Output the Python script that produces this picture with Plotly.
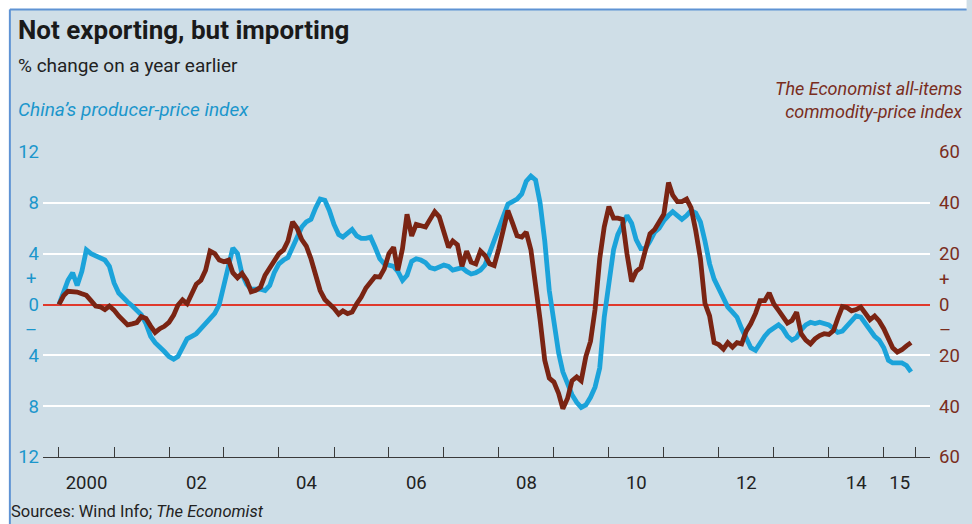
import pandas as pd
import plotly.graph_objects as go

# ---------------- data (monthly, Jan 2000 - Jul 2015) ----------------
months = pd.date_range("2000-01-01", periods=187, freq="MS")

# China's producer-price index, % change on a year earlier (left axis)
ppi = [
    0.0, 1.1, 1.9, 2.5, 1.5, 2.6, 4.3, 4.0, 3.8, 3.7, 3.5, 3.0,      # 2000
    1.7, 0.9, 0.5, 0.2, -0.1, -0.4, -0.8, -1.5, -2.5, -3.0, -3.3, -3.7,  # 2001
    -4.1, -4.3, -4.1, -3.3, -2.7, -2.5, -2.3, -1.9, -1.5, -1.2, -0.7, 0.0,  # 2002
    1.6, 3.3, 4.45, 4.0, 2.4, 1.6, 1.2, 1.2, 1.2, 1.1, 1.5, 2.5,      # 2003
    3.2, 3.5, 3.7, 4.5, 5.3, 6.1, 6.5, 6.7, 7.6, 8.3, 8.2, 7.4,      # 2004
    6.3, 5.5, 5.3, 5.6, 5.9, 5.4, 5.2, 5.2, 5.3, 4.5, 3.6, 3.2,      # 2005
    3.1, 3.0, 2.6, 1.9, 2.3, 3.4, 3.6, 3.5, 3.3, 2.9, 2.8, 2.9,      # 2006
    3.1, 3.0, 2.7, 2.8, 2.9, 2.6, 2.4, 2.5, 2.7, 3.1, 4.1, 5.1,      # 2007
    6.1, 7.0, 7.9, 8.1, 8.3, 8.7, 9.7, 10.1, 9.8, 8.0, 5.0, 1.1,     # 2008
    -1.6, -3.8, -5.3, -6.3, -7.1, -7.7, -8.1, -7.9, -7.3, -6.5, -5.0, -1.0,  # 2009
    2.0, 4.3, 5.5, 6.3, 7.0, 6.4, 5.1, 4.4, 4.4, 5.0, 5.7, 6.0,      # 2010
    6.6, 7.0, 7.3, 7.0, 6.7, 7.0, 7.4, 7.2, 6.5, 5.0, 3.2, 2.0,      # 2011
    1.2, 0.5, -0.2, -0.6, -1.0, -1.9, -2.7, -3.4, -3.6, -3.0, -2.5, -2.1,  # 2012
    -1.8, -1.6, -1.9, -2.5, -2.8, -2.6, -2.0, -1.6, -1.4, -1.5, -1.4, -1.5,  # 2013
    -1.6, -1.9, -2.2, -2.1, -1.7, -1.3, -0.9, -1.0, -1.5, -2.0, -2.5, -2.8,  # 2014
    -3.4, -4.4, -4.6, -4.6, -4.6, -4.8, -5.3,                          # 2015
]

# The Economist all-items commodity-price index, % change on a year earlier (right axis)
commodity = [
    0.0, 3.5, 5.2, 5.2, 4.9, 4.2, 3.6, 1.5, -0.6, -0.9, -2.0, -0.6,   # 2000
    -2.2, -4.5, -6.5, -8.0, -7.6, -7.1, -4.8, -5.5, -8.5, -11.0, -9.5, -8.6,  # 2001
    -7.0, -4.2, -0.3, 1.8, 0.3, 4.3, 8.0, 9.5, 13.5, 21.0, 20.0, 17.5,  # 2002
    16.8, 17.5, 12.5, 10.5, 12.2, 9.5, 5.0, 5.6, 6.8, 11.5, 14.5, 17.0,  # 2003
    20.0, 21.5, 25.0, 32.5, 30.0, 25.5, 23.0, 18.0, 11.0, 5.5, 2.0, 0.5,  # 2004
    -1.5, -3.8, -2.5, -3.6, -3.0, 0.3, 2.9, 6.5, 8.8, 11.0, 10.8, 14.0,  # 2005
    20.0, 22.5, 13.5, 22.0, 35.5, 27.0, 31.5, 31.0, 30.5, 33.5, 36.5, 34.5,  # 2006
    28.5, 22.5, 25.0, 23.5, 15.0, 21.0, 16.7, 16.0, 21.0, 19.3, 16.0, 15.3,  # 2007
    22.0, 30.5, 37.0, 32.0, 27.0, 26.5, 28.5, 21.5, 8.5, -6.0, -22.0, -29.0,  # 2008
    -30.5, -35.0, -41.0, -37.0, -30.0, -28.5, -30.0, -20.5, -14.5, -2.0, 18.0, 30.5,  # 2009
    38.5, 34.0, 34.0, 33.5, 20.0, 9.0, 13.0, 14.5, 21.5, 27.8, 29.5, 32.5,  # 2010
    35.5, 48.0, 43.0, 40.5, 40.5, 41.5, 38.0, 29.0, 18.0, 0.5, -4.5, -15.0,  # 2011
    -15.8, -17.5, -15.0, -16.8, -15.0, -15.5, -10.5, -7.5, -3.5, 1.5, 1.5, 4.5,  # 2012
    0.2, -2.3, -5.0, -7.3, -6.3, -3.0, -11.5, -14.0, -15.5, -13.5, -12.2, -11.5,  # 2013
    -11.8, -10.3, -5.5, -0.8, -1.2, -2.5, -2.0, -1.0, -3.5, -6.0, -4.5, -6.5,  # 2014
    -9.5, -13.0, -17.0, -18.7, -17.8, -16.3, -15.0,                    # 2015
]

left_tickvals = [-12, -8, -4, 0, 4, 8, 12]
left_ticktext = ["12", "8", "4", "0", "4", "8", "12"]
left_sign_vals = [2, -2]
left_sign_text = ["+", "\u2013"]
right_tickvals = [-60, -40, -20, -10, 0, 10, 20, 40, 60]
right_ticktext = ["60", "40", "20", "\u2013", "0", "+", "20", "40", "60"]

year_ticks = [f"{y}-01-01" for y in range(2000, 2016)] + ["2015-08-01"]
year_label_pos = ["2000-07-02", "2002-07-02", "2004-07-02", "2006-07-02", "2008-07-02",
                  "2010-07-02", "2012-07-02", "2014-07-02", "2015-04-17"]
year_label_text = ["2000", "02", "04", "06", "08", "10", "12", "14", "15"]

# ---------------- styling ----------------
BG = "#cfdee7"
BLUE = "#1ba3da"
BLUE_TXT = "#1b96cc"
BROWN = "#7a2413"
BROWN_TXT = "#7a2d1d"
AXIS = "#3a3a3a"
FONT = "Roboto"

W, H = 972, 524
L, R, T, B = 43, 940, 152, 457


def px(xp):
    return (xp - L) / (R - L)


def py(yp):
    return (B - yp) / (B - T)


x_range = ["1999-09-17", "2015-11-04"]

fig = go.Figure()
fig.add_trace(go.Scatter(x=months, y=ppi, mode="lines", yaxis="y",
                         line=dict(color=BLUE, width=4.8), hoverinfo="skip",
                         name="China's producer-price index"))
fig.add_trace(go.Scatter(x=months, y=commodity, mode="lines", yaxis="y2",
                         line=dict(color=BROWN, width=4.8), hoverinfo="skip",
                         name="The Economist all-items commodity-price index"))

fig.update_layout(
    width=W, height=H,
    margin=dict(l=L, r=W - R, t=T, b=H - B, pad=0),
    paper_bgcolor=BG, plot_bgcolor=BG,
    showlegend=False,
    font=dict(family=FONT, color="#222"),
    xaxis=dict(
        type="date", range=x_range, tickmode="array", tickvals=year_label_pos,
        ticktext=year_label_text, ticks="", ticklabelstandoff=9,
        tickfont=dict(family=FONT, size=18.5, color="#222"),
        minor=dict(tickmode="array", tickvals=year_ticks, ticks="inside", ticklen=10,
                   tickwidth=1.2, tickcolor=AXIS, showgrid=False),
        showline=True, linecolor=AXIS, linewidth=1.4,
        showgrid=False, zeroline=False, fixedrange=True,
    ),
    yaxis=dict(
        range=[-12, 12], tickmode="array", tickvals=left_tickvals, ticktext=left_ticktext,
        ticks="", showgrid=True, gridcolor="white", gridwidth=2.2,
        zeroline=True, zerolinecolor="#e0392c", zerolinewidth=1.6, showline=False,
        tickfont=dict(family=FONT, size=18.5, color=BLUE_TXT), ticklabelstandoff=3,
    ),
    yaxis2=dict(
        range=[-60, 60], overlaying="y", side="right", anchor="x", tickmode="array",
        tickvals=right_tickvals, ticktext=right_ticktext, ticks="", showgrid=False,
        zeroline=False, showline=False,
        tickfont=dict(family=FONT, size=18.5, color=BROWN_TXT), ticklabelstandoff=8,
    ),
)

# frame: white margin strips and blue border line (top and left)
fig.add_shape(type="rect", xref="paper", yref="paper", x0=px(-5), x1=px(9), y0=py(H + 5), y1=py(-5),
              fillcolor="white", line=dict(width=0), layer="above")
fig.add_shape(type="rect", xref="paper", yref="paper", x0=px(-5), x1=px(W + 5), y0=py(9), y1=py(-5),
              fillcolor="white", line=dict(width=0), layer="above")
fig.add_shape(type="line", xref="paper", yref="paper", x0=px(9.5), x1=px(9.5), y0=py(9.5), y1=py(H + 5),
              line=dict(color="#5f93d4", width=2), layer="above")
fig.add_shape(type="line", xref="paper", yref="paper", x0=px(9.5), x1=px(W + 5), y0=py(9.5), y1=py(9.5),
              line=dict(color="#5f93d4", width=2), layer="above")

ann = [
    dict(text="<b>Not exporting, but importing</b>", x=px(16), y=py(13), xanchor="left", yanchor="top",
         xref="paper", yref="paper", font=dict(family=FONT, size=26, color="#1a1a1a")),
    dict(text="% change on a year earlier", x=px(16), y=py(52), xanchor="left", yanchor="top",
         xref="paper", yref="paper", font=dict(family=FONT, size=19, color="#222")),
    dict(text="<i>China\u2019s producer-price index</i>", x=px(16), y=py(96), xanchor="left", yanchor="top",
         xref="paper", yref="paper", font=dict(family=FONT, size=19, color=BLUE_TXT)),
    dict(text="<i>The Economist all-items<br>commodity-price index</i>", x=px(975), y=py(76),
         xanchor="right", yanchor="top", align="right", xref="paper", yref="paper",
         font=dict(family=FONT, size=18, color=BROWN_TXT)),
    dict(text="Sources: Wind Info; <i>The Economist</i>", x=px(10), y=py(511), xanchor="left",
         yanchor="middle", xref="paper", yref="paper", borderpad=0,
         font=dict(family=FONT, size=16.5, color="#222")),
]
# "+" / "–" signs beside the left axis, placed on the left scale
for v, t in zip(left_sign_vals, left_sign_text):
    ann.append(dict(text=t, x=px(39), y=v, xref="paper", yref="y", xanchor="right", yanchor="middle",
                    font=dict(family=FONT, size=18.5, color=BLUE_TXT)))
for a in ann:
    a.update(showarrow=False)
fig.update_layout(annotations=ann)

fig.write_html("out.html", config={"displayModeBar": False})
